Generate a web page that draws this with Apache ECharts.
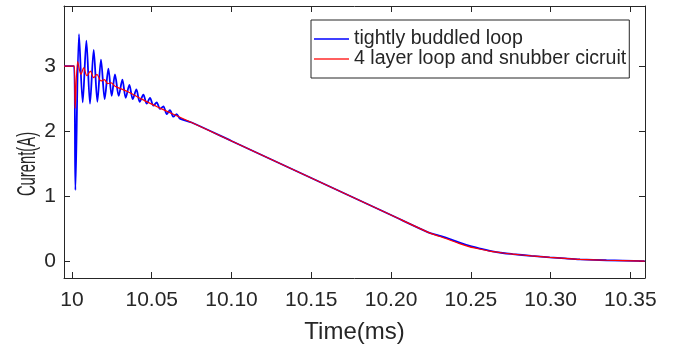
<!DOCTYPE html>
<html><head><meta charset="utf-8">
<script src="https://cdn.jsdelivr.net/npm/echarts@6/dist/echarts.min.js"></script>
<style>html,body{margin:0;padding:0;background:#fff}#c{width:673px;height:349px}</style>
</head><body><div id="c"></div>
<script>
const xTicks = [10, 10.05, 10.10, 10.15, 10.20, 10.25, 10.30, 10.35];
const yTicks = [0, 1, 2, 3];
const seriesNames = ['tightly buddled loop', '4 layer loop and snubber cicruit'];
const yTitle = 'Curent(A)';
const xTitle = 'Time(ms)';

const blueTime = [9.995, 10.0013, 10.00213, 10.00439, 10.00671, 10.00903, 10.01129, 10.01361, 10.01592, 10.01818,
  10.0205, 10.02282, 10.02489, 10.02696, 10.02928, 10.0316, 10.03367, 10.03599, 10.03806, 10.04038,
  10.04245, 10.04476, 10.04683, 10.0489, 10.05103, 10.0531, 10.05517, 10.0573, 10.0594, 10.0614,
  10.0636, 10.0656, 10.0677, 10.075, 10.10, 10.15, 10.20, 10.2233, 10.23, 10.236,
  10.2425, 10.2493, 10.256, 10.262, 10.27, 10.2763, 10.288, 10.2995, 10.309, 10.3185, 10.335, 10.359];
const blueCurrent = [3.01, 3.01, 1.10, 3.50, 2.45, 3.40, 2.43, 3.26, 2.46, 3.11,
  2.50, 2.97, 2.55, 2.88, 2.55, 2.80, 2.52, 2.72, 2.50, 2.65,
  2.46, 2.57, 2.43, 2.52, 2.40, 2.45, 2.35, 2.39, 2.27, 2.33,
  2.23, 2.27, 2.20, 2.14, 1.856, 1.286, 0.716, 0.45, 0.40, 0.355,
  0.295, 0.24, 0.198, 0.165, 0.132, 0.115, 0.088, 0.064, 0.048, 0.034, 0.02, 0.008];

const redTime = [9.995, 10.0015, 10.0020, 10.00357, 10.00564, 10.00734, 10.0094, 10.01154, 10.0136, 10.01567,
  10.01818, 10.02031, 10.0224, 10.0246, 10.027, 10.0354, 10.0437, 10.052, 10.0562, 10.075,
  10.10, 10.15, 10.20, 10.2233, 10.23, 10.236, 10.2425, 10.2493, 10.256, 10.262,
  10.27, 10.2763, 10.288, 10.2995, 10.309, 10.3185, 10.335, 10.359];
const redCurrent = [3.01, 3.01, 2.36, 3.08, 2.88, 2.98, 2.86, 2.93, 2.83, 2.88,
  2.78, 2.80, 2.74, 2.75, 2.70, 2.61, 2.50, 2.40, 2.35, 2.14,
  1.856, 1.286, 0.716, 0.45, 0.39, 0.34, 0.28, 0.227, 0.19, 0.16,
  0.132, 0.115, 0.088, 0.064, 0.048, 0.034, 0.02, 0.008];

const FONT = 'Liberation Sans';
const INK = '#262626';
const pairs = (t, v) => t.map((x, i) => [x, v[i]]);

const xBase = {
  type: 'value', min: 9.995, max: 10.3592,
  axisLine: { show: true, onZero: false, lineStyle: { color: INK, width: 1 } },
  axisTick: { show: true, inside: true, length: 6, customValues: xTicks, lineStyle: { color: INK, width: 1 } },
  splitLine: { show: false }
};
const yBase = {
  type: 'value', min: -0.253, max: 3.934,
  axisLine: { show: true, onZero: false, lineStyle: { color: INK, width: 1 } },
  axisTick: { show: true, inside: true, length: 6, customValues: yTicks, lineStyle: { color: INK, width: 1 } },
  splitLine: { show: false }
};

const chart = echarts.init(document.getElementById('c'), null, { renderer: 'canvas' });
chart.setOption({
  animation: false,
  backgroundColor: '#fff',
  grid: { left: 64, right: 28, top: 6, bottom: 70 },
  xAxis: [
    Object.assign({}, xBase, {
      position: 'bottom',
      axisLabel: { customValues: xTicks, fontSize: 21, color: INK, fontFamily: FONT, margin: 12,
        formatter: v => (Math.abs(v - 10) < 1e-9 ? '10' : v.toFixed(2)) },
      name: xTitle, nameLocation: 'middle', nameGap: 42,
      nameTextStyle: { fontSize: 24, color: INK, fontFamily: FONT }
    }),
    Object.assign({}, xBase, { position: 'top', axisLabel: { show: false } })
  ],
  yAxis: [
    Object.assign({}, yBase, {
      position: 'left',
      axisLabel: { customValues: yTicks, fontSize: 21, color: INK, fontFamily: FONT, margin: 8,
        formatter: v => String(v) }
    }),
    Object.assign({}, yBase, { position: 'right', axisLabel: { show: false } })
  ],
  graphic: [{
    type: 'text', x: 28, y: 164, rotation: Math.PI / 2, scaleX: 0.57, scaleY: 1,
    style: { text: yTitle, fontSize: 26, fontFamily: FONT, fill: INK, align: 'center', verticalAlign: 'middle' }
  }],
  legend: {
    orient: 'vertical', left: 311, top: 20,
    padding: [9, 3, 9, 3], itemGap: 0, itemWidth: 35, itemHeight: 1.6, icon: 'rect',
    borderColor: INK, borderWidth: 1, backgroundColor: '#fff',
    textStyle: { fontSize: 19.6, color: INK, fontFamily: FONT, lineHeight: 20 },
    data: seriesNames
  },
  series: [
    { name: seriesNames[0], type: 'line', data: pairs(blueTime, blueCurrent), symbol: 'none', showSymbol: false,
      smooth: 0.3, lineStyle: { color: '#0000ff', width: 1.8 }, itemStyle: { color: '#0000ff' }, z: 2 },
    { name: seriesNames[1], type: 'line', data: pairs(redTime, redCurrent), symbol: 'none', showSymbol: false,
      smooth: 0.3, lineStyle: { color: '#ff0000', width: 1.2 }, itemStyle: { color: '#ff2a2a' }, z: 3 }
  ]
});
</script>
</body></html>
